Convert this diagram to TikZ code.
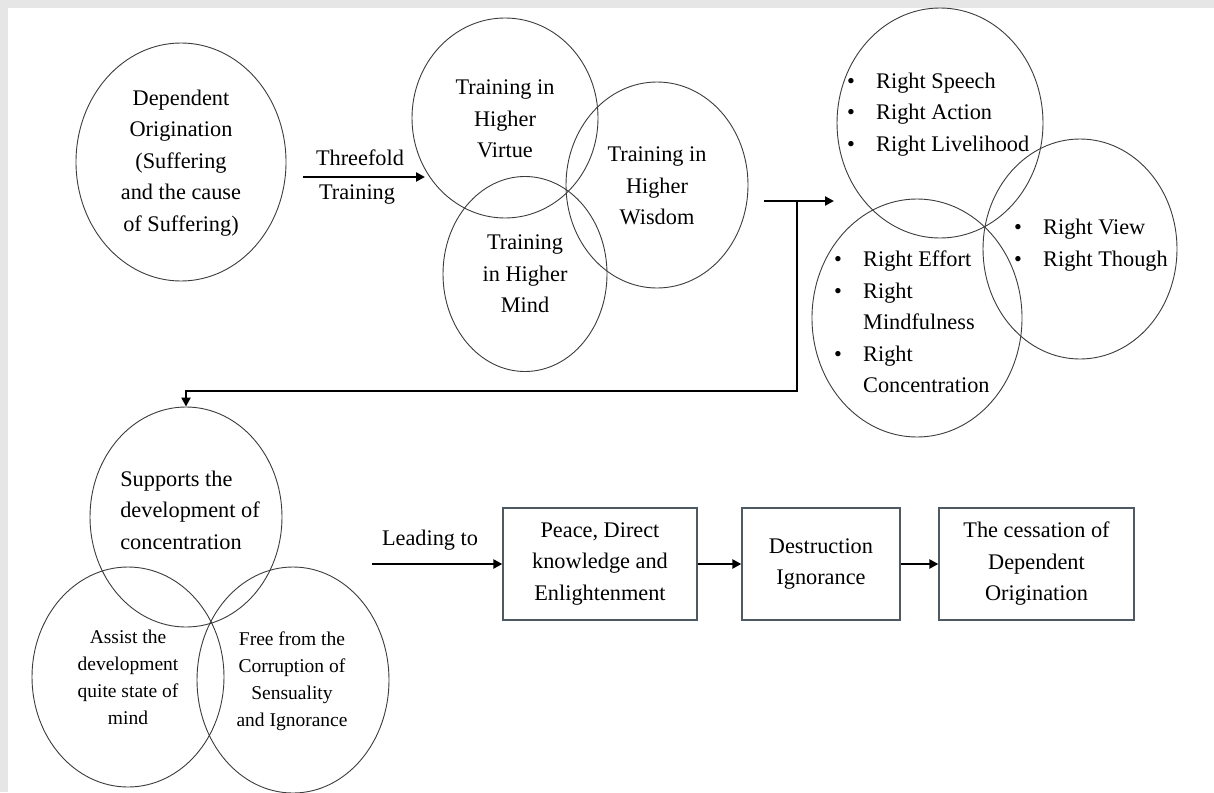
\documentclass[tikz,border=0pt]{standalone}
\usepackage{fontspec}
\setmainfont{Liberation Serif}
\usetikzlibrary{shapes.geometric,arrows.meta}
\definecolor{framegray}{HTML}{E6E6E6}
\definecolor{ringline}{HTML}{3C3C3C}
\definecolor{boxline}{HTML}{4F5963}
% bullet with a fixed hanging width, and the matching indent for wrapped lines
\newcommand{\blt}{\makebox[29pt][l]{\textbullet}}
\newcommand{\ind}{\hspace*{29pt}}

\begin{document}
\begin{tikzpicture}[x=1pt,y=-1pt,
  ring/.style={ellipse, draw=ringline, line width=0.9pt, inner sep=0pt},
  txt/.style={font=\fontsize{22.3}{31.5}\selectfont, align=center, inner sep=0pt},
  smalltxt/.style={font=\fontsize{19.5}{27}\selectfont, align=center, inner sep=0pt},
  listtxt/.style={txt, align=left, anchor=west},
  stage/.style={txt, draw=boxline, line width=1.3pt, fill=white, minimum height=112pt},
  arr/.style={line width=2.6pt, line join=miter, -{Triangle[length=9pt,width=9pt]}},
]
\useasboundingbox (0,0) rectangle (1214,792);
\fill[framegray] (0,0) rectangle (1214,792);
\fill[white] (8,8) rectangle (1214,792);

% starting point
\node[ring, minimum width=210pt, minimum height=238pt] (origin) at (181,162) {};
\node[txt] (originT) at (181,163) {Dependent\\Origination\\(Suffering\\and the cause\\of Suffering)};

% threefold training arrow
\coordinate (tfA) at (303,177);
\coordinate (tfB) at (425,177);
\draw[arr] (tfA) -- (tfB);
\node[txt] (tfTop) at (360,158) {Threefold};
\node[txt] (tfBot) at (357,195) {Training};

% three trainings
\node[ring, minimum width=186pt, minimum height=200pt] (virtue) at (505,118) {};
\node[txt] (virtueT) at (505,119) {Training in\\Higher\\Virtue};
\node[ring, minimum width=182pt, minimum height=206pt] (wisdom) at (657,185) {};
\node[txt] (wisdomT) at (657,186) {Training in\\Higher\\Wisdom};
\node[ring, minimum width=164pt, minimum height=195pt] (mind) at (525,274) {};
\node[txt] (mindT) at (525,274) {Training\\in Higher\\Mind};

% eightfold path groups
\node[ring, minimum width=206pt, minimum height=230pt] (speech) at (940,123) {};
\node[listtxt] (speechT) at (847,114.5) {\blt Right Speech\\\blt Right Action\\\blt Right Livelihood};
\node[ring, minimum width=194pt, minimum height=220pt] (view) at (1080,249) {};
\node[listtxt] (viewT) at (1014,245) {\blt Right View\\\blt Right Though};
\node[ring, minimum width=210pt, minimum height=238pt] (effort) at (917,318) {};
\node[listtxt] (effortT) at (834,322) {\blt Right Effort\\\blt Right\\\ind Mindfulness\\\blt Right\\\ind Concentration};

% bracket connector
\coordinate (jS) at (764,201);
\coordinate (jE) at (834,201);
\coordinate (jT) at (797,201);
\coordinate (jB) at (797,391);
\draw[arr] (jS) -- (jE);

% concentration group
\node[ring, minimum width=192pt, minimum height=220pt] (sup) at (186,517) {};
\node[txt, align=left] (supT) at (190,510) {Supports the\\development of\\concentration};
\node[ring, minimum width=192pt, minimum height=220pt] (assist) at (128,677) {};
\node[smalltxt] (assistT) at (128,677) {Assist the\\development\\quite state of\\mind};
\node[ring, minimum width=192pt, minimum height=226pt] (free) at (293,680) {};
\node[smalltxt] (freeT) at (292,681) {Free from the\\Corruption of\\Sensuality\\and Ignorance};

\draw[arr] (jT) -- (jB) -| (sup.north);

% outcome chain
\node[stage, minimum width=194pt] (peace) at (600,564) {Peace, Direct\\knowledge and\\Enlightenment};
\node[stage, minimum width=158pt] (destr) at (821,564) {Destruction\\Ignorance};
\node[stage, minimum width=195pt] (cess) at (1036.5,564) {The cessation of\\Dependent\\Origination};

\coordinate (ldA) at (372,564);
\draw[arr] (ldA) -- (peace.west);
\node[txt] (ldT) at (430,540) {Leading to};
\draw[arr] (peace) -- (destr);
\draw[arr] (destr) -- (cess);
\end{tikzpicture}
\end{document}
